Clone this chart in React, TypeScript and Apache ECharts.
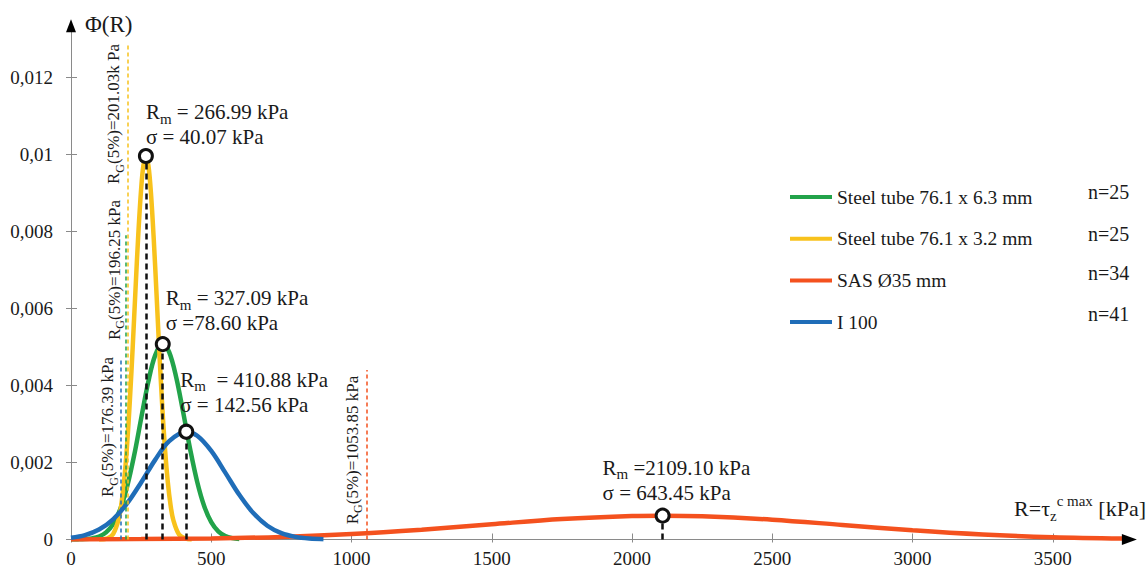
import React, { useEffect, useRef } from 'react';
import * as echarts from 'echarts';

// ---------- data ----------
const seriesNames = ['Steel tube 76.1 x 6.3 mm', 'Steel tube 76.1 x 3.2 mm', 'SAS Ø35 mm', 'I 100'];
const sampleSizes = ['n=25', 'n=25', 'n=34', 'n=41'];

const greenR = [0, 25, 50, 75, 100, 125, 150, 175, 200, 225, 250, 275, 300, 327, 350, 375, 400, 425, 450, 475, 500, 525, 550, 575, 600];
const greenPhi = [0.000001, 0.000003, 0.00001, 0.00003, 0.000078, 0.000186, 0.000401, 0.000781, 0.001374, 0.00218, 0.00314, 0.004075, 0.004783, 0.005076, 0.004865, 0.004215, 0.003301, 0.002337, 0.001495, 0.000864, 0.000451, 0.000213, 0.000091, 0.000035, 0.000012];

const yellowR = [100, 130, 150, 170, 180, 190, 200, 210, 220, 230, 240, 250, 258, 267, 276, 285, 295, 305, 315, 325, 335, 345, 355, 365, 385, 410, 430];
const yellowPhi = [0.000002, 0.00003, 0.00014, 0.00053, 0.00094, 0.00157, 0.00246, 0.00363, 0.005, 0.0065, 0.00794, 0.0091, 0.00971, 0.00996, 0.00971, 0.009, 0.0078, 0.00636, 0.00486, 0.0035, 0.00236, 0.0015, 0.00089, 0.0005, 0.00013, 0.00002, 0.000002];

const redR = [0, 250, 500, 750, 1000, 1250, 1500, 1750, 2000, 2109, 2250, 2500, 2750, 3000, 3250, 3500, 3750];
const redPhi = [0.000003, 0.00001, 0.000027, 0.000067, 0.00014, 0.000254, 0.000396, 0.000531, 0.000611, 0.00062, 0.000605, 0.000516, 0.000378, 0.000238, 0.000129, 0.00006, 0.000024];

const blueR = [0, 50, 100, 150, 200, 250, 300, 350, 411, 450, 500, 550, 600, 650, 700, 750, 800, 850, 900];
const bluePhi = [0.000044, 0.000114, 0.000259, 0.000524, 0.000937, 0.001481, 0.002068, 0.002555, 0.0028, 0.002695, 0.002302, 0.001738, 0.001161, 0.000686, 0.000358, 0.000165, 0.000068, 0.000024, 0.000008];

const means = [327.09, 266.99, 2109.1, 410.88];
const peakValues = [0.005076, 0.00996, 0.00062, 0.0028];
const meanTexts = [' = 327.09 kPa', ' = 266.99 kPa', ' =2109.10 kPa', '  = 410.88 kPa'];
const sigmaTexts = ['σ =78.60 kPa', 'σ = 40.07 kPa', 'σ = 643.45 kPa', 'σ = 142.56 kPa'];
const quantiles = [196.25, 201.03, 1053.85, 176.39];
const quantileTexts = ['(5%)=196.25 kPa', '(5%)=201.03k Pa', '(5%)=1053.85 kPa', '(5%)=176.39 kPa'];
const quantileLineTops = [0.0079, 0.0129, 0.0044, 0.0047];

const xTickValues = [0, 500, 1000, 1500, 2000, 2500, 3000, 3500];
const yTickValues = [0, 0.002, 0.004, 0.006, 0.008, 0.01, 0.012];

// ---------- styles / layout ----------
const FONT = '"Liberation Serif", "Times New Roman", serif';
const TEXT = '#1a1a1a';
const AXIS = '#8a8a8a';
const COLORS = ['#22A34A', '#F8C21C', '#F4511E', '#1F6DB8'];
const X_MAX = 3750;
const Y_MAX = 0.0132;
// dx: left offset of annotation from the mean point; dy: offset of first line centre
const annotLayout = [
  { dx: 3, dy: -46 },
  { dx: 0, dy: -44 },
  { dx: -60, dy: -48 },
  { dx: -6, dy: -52 },
];
const qLabelLayout = [
  { dx: -12, cy: 270 },
  { dx: -13.4, cy: 114 },
  { dx: -14.6, cy: 450 },
  { dx: -12.5, cy: 427 },
];
const nLabelY = [192, 234, 273, 314];

const curves = [
  [greenR, greenPhi],
  [yellowR, yellowPhi],
  [redR, redPhi],
  [blueR, bluePhi],
];

const yFmt = (v: number) => (v === 0 ? '0' : String(parseFloat(v.toFixed(4))).replace('.', ','));

function buildOption() {
  const series = curves.map(([rs, ps], i) => ({
    name: seriesNames[i],
    type: 'line',
    data: rs.map((r, k) => [r, ps[k]]),
    showSymbol: false,
    smooth: 0.35,
    color: COLORS[i],
    lineStyle: { color: COLORS[i], width: 4.5 },
    xAxisIndex: 0,
    yAxisIndex: 0,
    markLine: {
      silent: true,
      symbol: ['none', 'none'],
      label: { show: false },
      data: [
        [
          { coord: [quantiles[i], 0], lineStyle: { color: COLORS[i], type: [4, 3], width: 1.5 } },
          { coord: [quantiles[i], quantileLineTops[i]] },
        ],
        [
          { coord: [means[i], 0], lineStyle: { color: '#111', type: [6, 4], width: 2.5 } },
          { coord: [means[i], peakValues[i]] },
        ],
      ],
    },
    markPoint: {
      silent: true,
      symbol: 'circle',
      symbolSize: 13,
      label: { show: false },
      itemStyle: { color: '#ffffff', borderColor: '#111', borderWidth: 3 },
      data: [{ coord: [means[i], peakValues[i]] }],
    },
  }));

  const axisCommon = { type: 'value', splitLine: { show: false } };

  return {
    animation: false,
    backgroundColor: '#ffffff',
    grid: { left: 71, right: 1148 - 71 - X_MAX * 0.2805, top: 31.3, bottom: 34.5, containLabel: false, outerBoundsMode: 'none' },
    legend: {
      orient: 'vertical',
      left: 785,
      top: 182,
      itemWidth: 42,
      itemHeight: 4,
      itemGap: 21.7,
      icon: 'rect',
      selectedMode: false,
      data: seriesNames,
      textStyle: { fontFamily: FONT, fontSize: 19.5, color: TEXT, lineHeight: 20 },
    },
    xAxis: [
      {
        ...axisCommon,
        min: 0,
        max: X_MAX,
        position: 'bottom',
        axisLine: { show: true, lineStyle: { color: AXIS, width: 1 } },
        axisTick: { show: true, inside: true, length: 6, customValues: xTickValues, lineStyle: { color: AXIS } },
        axisLabel: { show: true, margin: 9, fontSize: 19, fontFamily: FONT, color: TEXT, customValues: xTickValues, formatter: (v: number) => String(v) },
      },
      {
        ...axisCommon,
        min: 0,
        max: X_MAX,
        position: 'bottom',
        axisLine: { show: false },
        axisTick: { show: true, inside: false, length: 3, customValues: xTickValues, lineStyle: { color: AXIS } },
        axisLabel: { show: false },
      },
    ],
    yAxis: [
      {
        ...axisCommon,
        min: 0,
        max: Y_MAX,
        position: 'left',
        axisLine: { show: true, lineStyle: { color: AXIS, width: 1 } },
        axisTick: { show: true, inside: false, length: 5, customValues: yTickValues, lineStyle: { color: AXIS } },
        axisLabel: { show: true, margin: 18, fontSize: 19, fontFamily: FONT, color: TEXT, customValues: yTickValues, formatter: yFmt },
      },
      {
        ...axisCommon,
        min: 0,
        max: Y_MAX,
        position: 'left',
        axisLine: { show: false },
        axisTick: { show: true, inside: true, length: 6, customValues: yTickValues, lineStyle: { color: AXIS } },
        axisLabel: { show: false },
      },
    ],
    series,
  };
}

export default function App() {
  const ref = useRef<HTMLDivElement>(null);
  useEffect(() => {
    const chart = echarts.init(ref.current!, null, { renderer: 'svg' });
    chart.setOption(buildOption() as any);

    const px = (x: number, y: number) => chart.convertToPixel({ gridIndex: 0 } as any, [x, y]) as number[];
    const elements: any[] = [];

    const annRich = {
      b: { fontFamily: FONT, fontSize: 21, fill: TEXT, lineHeight: 28 },
      s: { fontFamily: FONT, fontSize: 15, fill: TEXT, lineHeight: 18, verticalAlign: 'bottom' },
      c: { fontFamily: FONT, fontSize: 21, fill: TEXT, lineHeight: 22 },
    };

    means.forEach((m, i) => {
      const [cx, cy] = px(m, peakValues[i]);
      const L = annotLayout[i];
      elements.push({
        type: 'text', x: cx + L.dx, y: cy + L.dy - 14, silent: true, z: 100,
        style: {
          text: `{b|R}{s|m}{b|${meanTexts[i]}}\n{c|${sigmaTexts[i]}}`,
          rich: annRich, align: 'left', verticalAlign: 'top', textAlign: 'left', textVerticalAlign: 'top', fill: TEXT,
        },
      });
    });

    const qRich = {
      b: { fontFamily: FONT, fontSize: 17, fill: TEXT, lineHeight: 24 },
      s: { fontFamily: FONT, fontSize: 12, fill: TEXT, lineHeight: 12, verticalAlign: 'bottom' },
    };
    quantiles.forEach((q, i) => {
      const [qx] = px(q, 0);
      const L = qLabelLayout[i];
      elements.push({
        type: 'text', x: qx + L.dx, y: L.cy, rotation: Math.PI / 2, silent: true, z: 100,
        style: { text: `{b|R}{s|G}{b|${quantileTexts[i]}}`, rich: qRich, align: 'center', verticalAlign: 'middle', textAlign: 'center', textVerticalAlign: 'middle', fill: TEXT },
      });
    });

    sampleSizes.forEach((t, i) => {
      elements.push({
        type: 'text', x: 1088, y: nLabelY[i], silent: true,
        style: { text: t, fontFamily: FONT, fontSize: 20, fill: TEXT, align: 'left', verticalAlign: 'middle', textAlign: 'left', textVerticalAlign: 'middle' },
      });
    });

    const [ox, oy] = px(0, 0);
    const [, topY] = px(0, Y_MAX);
    const [rightX] = px(X_MAX, 0);
    elements.push({
      type: 'polygon', silent: true, z: 50,
      shape: { points: [[ox - 5, topY + 1], [ox + 5, topY + 1], [ox, topY - 12]] },
      style: { fill: '#000' },
    });
    elements.push({
      type: 'polygon', silent: true, z: 50,
      shape: { points: [[rightX - 1, oy - 5.5], [rightX - 1, oy + 5.5], [rightX + 14, oy]] },
      style: { fill: '#000' },
    });

    elements.push({
      type: 'text', x: ox + 14, y: topY - 7, silent: true,
      style: { text: 'Φ(R)', fontFamily: FONT, fontSize: 23, fill: TEXT, align: 'left', verticalAlign: 'middle', textAlign: 'left', textVerticalAlign: 'middle' },
    });

    const nameRich = {
      b: { fontFamily: FONT, fontSize: 22, fill: TEXT, lineHeight: 30 },
      s: { fontFamily: FONT, fontSize: 15, fill: TEXT, lineHeight: 15, verticalAlign: 'bottom' },
      p: { fontFamily: FONT, fontSize: 15, fill: TEXT, lineHeight: 15, verticalAlign: 'top' },
    };
    elements.push({
      type: 'text', x: 1146, y: oy - 31, silent: true,
      style: { text: '{b|R=τ}{s|z}{p|c max}{b| [kPa]}', rich: nameRich, align: 'right', verticalAlign: 'middle', textAlign: 'right', textVerticalAlign: 'middle', fill: TEXT },
    });

    chart.setOption({ graphic: { elements } } as any);
    return () => chart.dispose();
  }, []);

  return (
    <div
      ref={ref}
      style={{ position: 'fixed', left: 0, top: 0, width: 1148, height: 574, background: '#ffffff' }}
    />
  );
}
